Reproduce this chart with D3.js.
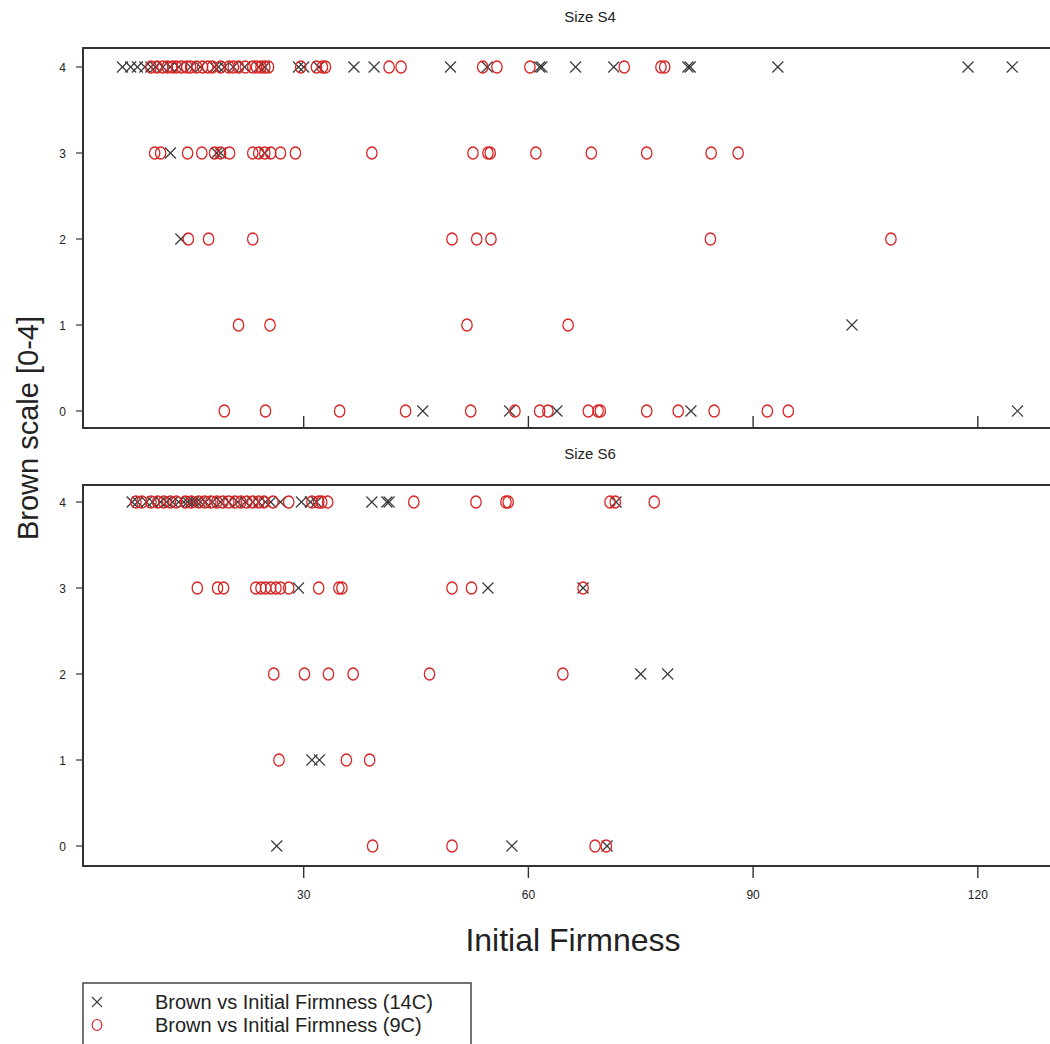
<!DOCTYPE html>
<html>
<head>
<meta charset="utf-8">
<script src="https://cdn.jsdelivr.net/npm/d3@7"></script>
<style>
  body { margin: 0; background: #fff; }
  svg { font-family: "Liberation Sans", Arial, sans-serif; }
</style>
</head>
<body>
<svg id="chart" width="1050" height="1044"></svg>
<script>
// brown scale levels and tick labels
const brownLevels = [0, 1, 2, 3, 4];
const xTicks = [30, 60, 90, 120];
const panelTitles = ["Size S4", "Size S6"];
const seriesNames = ["Brown vs Initial Firmness (14C)", "Brown vs Initial Firmness (9C)"];

// initial firmness values, per brown level
// Size S4, 14C (crosses)
const s4_14C = {
  4: [5.8, 6.9, 7.8, 8.8, 9.6, 10.2, 11.2, 12.2, 13.3, 14.9, 16.2, 18.1, 18.6, 19.4, 20.6, 22.1, 24.0, 24.8,
      29.3, 30.0, 32.0, 36.7, 39.4, 49.6, 54.5, 61.5, 61.8, 66.3, 71.4, 81.3, 81.6, 93.3, 118.7, 124.6],
  3: [12.2, 18.4, 18.9, 24.8],
  2: [13.6],
  1: [103.2],
  0: [45.9, 57.5, 63.8, 81.7, 125.3]
};
// Size S4, 9C (circles)
const s4_9C = {
  4: [9.6, 10.4, 11.2, 11.8, 12.5, 13.0, 13.7, 14.4, 14.9, 15.7, 16.5, 17.2, 17.8, 18.9, 20.0, 20.6, 21.3, 22.2,
      23.2, 23.7, 24.3, 24.8, 25.3, 29.6, 31.7, 32.5, 32.9, 41.4, 43.0, 53.9, 55.8, 60.2, 72.8, 77.7, 78.2],
  3: [10.1, 10.9, 14.5, 16.4, 18.1, 18.9, 20.1, 23.2, 24.0, 24.8, 25.6, 26.9, 28.9, 39.1, 52.6, 54.6, 54.9,
      61.0, 68.4, 75.8, 84.4, 88.0],
  2: [14.6, 17.3, 23.2, 49.8, 53.1, 55.0, 84.3, 108.4],
  1: [21.3, 25.5, 51.8, 65.3],
  0: [19.4, 24.9, 34.8, 43.6, 52.3, 58.2, 61.5, 62.6, 68.0, 69.3, 69.6, 75.8, 80.0, 84.8, 91.9, 94.7]
};
// Size S6, 14C (crosses)
const s6_14C = {
  4: [7.1, 7.8, 9.0, 9.8, 10.9, 11.7, 12.5, 13.3, 14.0, 14.5, 14.9, 15.3, 15.7, 16.2, 16.9, 17.8, 18.9, 20.0,
      21.2, 22.2, 23.2, 24.0, 24.9, 25.6, 26.9, 29.7, 30.9, 31.7, 39.1, 41.1, 41.4, 71.7],
  3: [29.3, 54.6, 67.3],
  2: [75.0, 78.6],
  1: [31.1, 32.1],
  0: [26.4, 57.8, 70.5]
};
// Size S6, 9C (circles)
const s6_9C = {
  4: [7.6, 8.4, 9.6, 10.5, 11.3, 12.2, 13.0, 14.2, 15.0, 16.0, 16.8, 17.6, 18.4, 19.2, 20.0, 20.8, 21.6, 22.4,
      23.2, 24.0, 24.7, 25.9, 28.0, 31.1, 32.0, 32.4, 33.2, 44.7, 53.0, 57.0, 57.3, 70.9, 71.6, 76.8],
  3: [15.8, 18.5, 19.3, 23.6, 24.3, 24.9, 25.6, 26.3, 26.9, 28.0, 32.0, 34.7, 35.1, 49.8, 52.4, 67.3],
  2: [26.0, 30.1, 33.3, 36.6, 46.8, 64.6],
  1: [26.7, 35.7, 38.8],
  0: [39.2, 49.8, 68.9, 70.4]
};

const crossColor = "#3a3a3a";
const circleColor = "#d82626";

const svg = d3.select("#chart");

const left = 83, right = 1060;
const x = d3.scaleLinear().domain([0, 130]).range([79, 1052.7]);

const panels = [
  { title: panelTitles[0], top: 48, bottom: 428, y4: 67, y0: 411, cross: s4_14C, circ: s4_9C, outerAxis: false },
  { title: panelTitles[1], top: 485, bottom: 866, y4: 502, y0: 846, cross: s6_14C, circ: s6_9C, outerAxis: true }
];

function flatten(byLevel) {
  let pts = [];
  brownLevels.forEach(l => (byLevel[l] || []).forEach(v => pts.push({ x: v, y: l })));
  return pts;
}

function drawCross(g, px, py, s) {
  g.append("line").attr("x1", px - s).attr("y1", py - s).attr("x2", px + s).attr("y2", py + s);
  g.append("line").attr("x1", px - s).attr("y1", py + s).attr("x2", px + s).attr("y2", py - s);
}

panels.forEach(p => {
  const y = d3.scaleLinear().domain([0, 4]).range([p.y0, p.y4]);

  // title
  svg.append("text")
    .attr("x", 590).attr("y", p.top - 26)
    .attr("text-anchor", "middle")
    .style("font-size", "15px")
    .attr("fill", "#222")
    .text(p.title);

  // y axis ticks
  const yAx = svg.append("g");
  brownLevels.forEach(l => {
    yAx.append("line").attr("x1", left - 7).attr("x2", left)
      .attr("y1", y(l)).attr("y2", y(l))
      .attr("stroke", "#333").attr("stroke-width", 1.2);
    yAx.append("text").attr("x", 66).attr("y", y(l) + 4.5)
      .attr("text-anchor", "end").style("font-size", "12px").attr("fill", "#222")
      .text(l);
  });

  // x ticks
  const xAx = svg.append("g");
  xTicks.forEach(t => {
    if (p.outerAxis) {
      xAx.append("line").attr("x1", x(t)).attr("x2", x(t))
        .attr("y1", p.bottom).attr("y2", p.bottom + 12)
        .attr("stroke", "#333").attr("stroke-width", 1.4);
      xAx.append("text").attr("x", x(t)).attr("y", p.bottom + 33)
        .attr("text-anchor", "middle").style("font-size", "12px").attr("fill", "#222")
        .text(t);
    } else {
      xAx.append("line").attr("x1", x(t)).attr("x2", x(t))
        .attr("y1", p.bottom).attr("y2", p.bottom - 12)
        .attr("stroke", "#333").attr("stroke-width", 1.4);
    }
  });

  // frame
  svg.append("rect")
    .attr("x", left).attr("y", p.top)
    .attr("width", right - left).attr("height", p.bottom - p.top)
    .attr("fill", "none").attr("stroke", "#333").attr("stroke-width", 2);

  // crosses (14C)
  const gc = svg.append("g").attr("stroke", crossColor).attr("stroke-width", 1.2);
  flatten(p.cross).forEach(d => drawCross(gc, x(d.x), y(d.y), 5.5));

  // circles (9C)
  svg.append("g").selectAll("ellipse")
    .data(flatten(p.circ))
    .join("ellipse")
    .attr("cx", d => x(d.x)).attr("cy", d => y(d.y))
    .attr("rx", 5.2).attr("ry", 6)
    .attr("fill", "none").attr("stroke", circleColor).attr("stroke-width", 1.3);
});

// axis labels
svg.append("text")
  .attr("transform", "translate(38,428) rotate(-90)")
  .attr("text-anchor", "middle")
  .style("font-size", "29px").attr("fill", "#222")
  .text("Brown scale [0-4]");

svg.append("text")
  .attr("x", 573).attr("y", 951)
  .attr("text-anchor", "middle")
  .style("font-size", "32px").attr("fill", "#222")
  .text("Initial Firmness");

// legend
const lg = svg.append("g");
lg.append("rect").attr("x", 83).attr("y", 983).attr("width", 388).attr("height", 80)
  .attr("fill", "none").attr("stroke", "#444").attr("stroke-width", 1.5);
const lgc = lg.append("g").attr("stroke", crossColor).attr("stroke-width", 1.1);
drawCross(lgc, 97, 1002, 5);
lg.append("ellipse").attr("cx", 97).attr("cy", 1025).attr("rx", 4.8).attr("ry", 5.5)
  .attr("fill", "none").attr("stroke", circleColor).attr("stroke-width", 1.2);
seriesNames.forEach((s, i) => {
  lg.append("text").attr("x", 155).attr("y", 1009 + i * 23)
    .style("font-size", "20px").attr("fill", "#222").text(s);
});
</script>
</body>
</html>
